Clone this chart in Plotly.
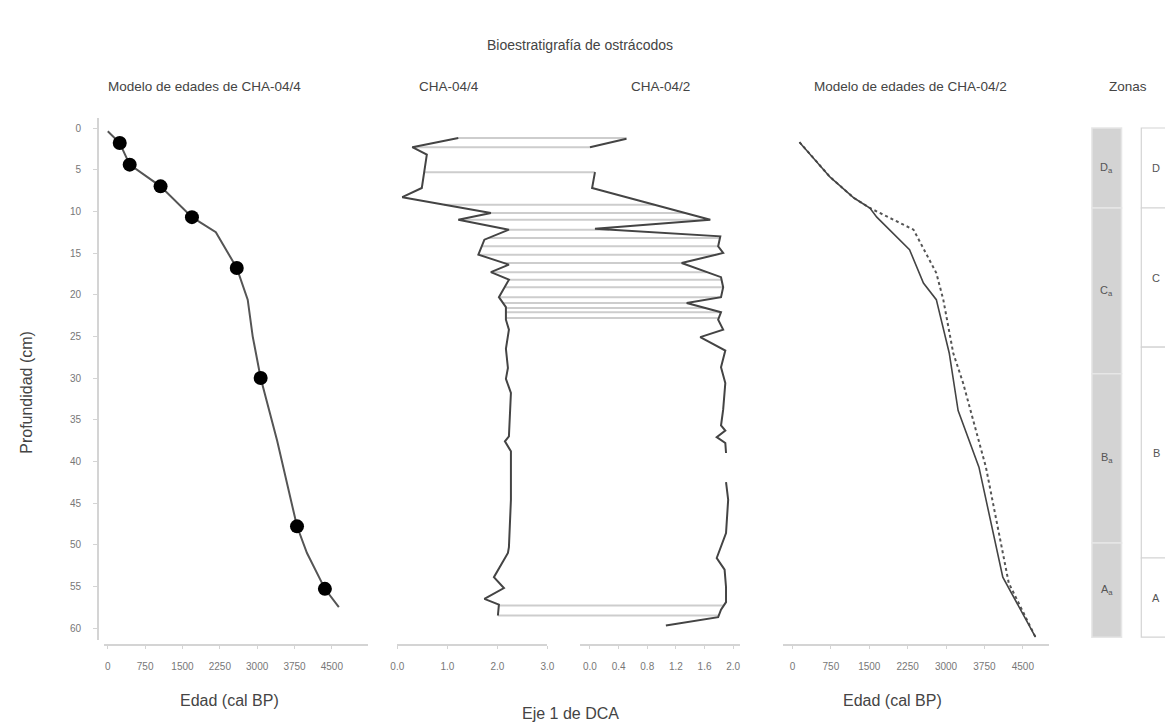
import numpy as np
import plotly.graph_objects as go

W, H = 1172, 722

# ---- Age model CHA-04/4 (depth in cm, age in cal BP) ----
m4_depth = [0.4, 1.8, 4.4, 7.0, 10.7, 12.5, 16.8, 20.6, 25.0, 30.0, 37.5, 47.8, 51.0, 55.3, 57.5]
m4_age = [0, 240, 440, 1060, 1690, 2170, 2590, 2810, 2910, 3070, 3400, 3800, 4000, 4360, 4640]
# dated levels
d4_depth = [1.8, 4.4, 7.0, 10.7, 16.8, 30.0, 47.8, 55.3]
d4_age = [240, 440, 1060, 1690, 2590, 3070, 3800, 4360]

# ---- DCA axis 1 scores ----
dca4_depth = [1.2, 2.3, 3.2, 5.0, 7.2, 8.3, 10.2, 11.0, 12.2, 13.4, 15.2, 16.4, 17.3, 18.2,
              20.3, 21.5, 23.0, 24.2, 26.5, 28.8, 30.1, 31.8, 37.0, 37.6, 38.8, 44.6, 50.3,
              51.0, 53.9, 55.2, 56.5, 57.2, 58.5]
dca4_score = [1.22, 0.30, 0.59, 0.55, 0.49, 0.10, 1.87, 1.22, 2.23, 1.74, 1.62, 2.23, 1.87, 2.23,
              2.03, 2.17, 2.17, 2.23, 2.17, 2.21, 2.17, 2.27, 2.23, 2.15, 2.27, 2.27, 2.23,
              2.21, 1.93, 2.13, 1.74, 2.03, 2.01]

dca2_depth = [1.3, 2.3, 3.8, 5.3, 7.2, 11.0, 12.1, 13.0, 14.2, 15.0, 16.2, 17.9, 19.1, 20.3,
              21.0, 22.1, 23.0, 24.2, 25.1, 26.7, 28.7, 30.6, 33.8, 35.7, 36.3, 37.1, 37.8,
              39.0, 40.5, 42.5, 44.6, 48.6, 49.1, 51.6, 53.0, 55.1, 56.9, 57.8, 58.7, 59.7]
dca2_score = [0.51, 0.00, None, 0.07, 0.03, 1.68, 0.07, 1.82, 1.79, 1.86, 1.28, 1.83, 1.86, 1.83,
              1.35, 1.83, 1.79, 1.86, 1.54, 1.89, 1.83, 1.89, 1.86, 1.83, 1.89, 1.77, 1.89,
              1.90, None, 1.90, 1.93, 1.90, 1.88, 1.77, 1.88, 1.90, 1.90, 1.83, 1.79, 1.06]

# levels correlated between both cores
link_depth = [1.2, 2.3, 5.3, 9.2, 10.2, 11.0, 12.2, 13.2, 14.2, 15.2, 16.2, 17.3, 18.2,
              19.1, 20.3, 21.0, 21.6, 22.1, 22.8, 57.3, 58.5]

# ---- Age model CHA-04/2 ----
m2_depth = [1.7, 5.9, 8.4, 9.6, 10.7, 14.6, 18.6, 20.6, 27.0, 33.9, 40.7, 53.9, 61.1]
m2_age = [136, 736, 1202, 1512, 1647, 2287, 2558, 2810, 3062, 3236, 3643, 4109, 4748]
m2b_depth = [1.7, 5.9, 8.4, 9.6, 12.2, 17.4, 20.6, 27.0, 30.6, 40.7, 54.6, 61.1]
m2b_age = [136, 736, 1202, 1512, 2364, 2810, 2946, 3140, 3333, 3779, 4225, 4748]

# ---- Zones ----
zone_a_names = ["D", "C", "B", "A"]
zone_a_top = [0.0, 9.6, 29.5, 49.8]
zone_a_bot = [9.6, 29.5, 49.8, 61.1]
zone_b_names = ["D", "C", "B", "A"]
zone_b_top = [0.0, 9.6, 26.3, 51.6]
zone_b_bot = [9.6, 26.3, 51.6, 61.1]

age_ticks = [0, 750, 1500, 2250, 3000, 3750, 4500]
depth_ticks = list(range(0, 61, 5))
dca4_ticks = [0, 1, 2, 3]
dca2_ticks = [0, 0.4, 0.8, 1.2, 1.6, 2.0]

# ---------------------------------------------------------------
FAMILY = "Liberation Sans, Arial, sans-serif"


def dom(a, b):
    return [a / W, b / W]


AXIS_Y = 1 - 645 / H
GRID = "#d4d4d4"
TICKFONT = dict(family=FAMILY, size=10, color="#777")

# sub-axes of the DCA panel, and a combined axis (in px units) for the links
X3_DOM, X3_RNG = (395, 547), (0.0, 3.0)
X4_DOM, X4_RNG = (580, 742), (-0.138, 2.097)


def to_px(v, d, r):
    return d[0] + (v - r[0]) * (d[1] - d[0]) / (r[1] - r[0])


fig = go.Figure()

# links between the two DCA profiles
d2 = np.array([d for d, s in zip(dca2_depth, dca2_score) if s is not None])
s2 = np.array([s for s in dca2_score if s is not None])
for d in link_depth:
    xl = to_px(np.interp(d, dca4_depth, dca4_score), X3_DOM, X3_RNG)
    xr = to_px(np.interp(d, d2, s2), X4_DOM, X4_RNG)
    fig.add_trace(go.Scatter(x=[xl, xr], y=[d, d], mode="lines",
                             line=dict(color="#cdcdcd", width=2),
                             xaxis="x2", yaxis="y", hoverinfo="skip"))

# age model CHA-04/4
fig.add_trace(go.Scatter(x=m4_age, y=m4_depth, mode="lines",
                         line=dict(color="#555", width=2), xaxis="x", yaxis="y"))
fig.add_trace(go.Scatter(x=d4_age, y=d4_depth, mode="markers",
                         marker=dict(color="black", size=14), xaxis="x", yaxis="y"))

# DCA profiles
fig.add_trace(go.Scatter(x=dca4_score, y=dca4_depth, mode="lines",
                         line=dict(color="#444", width=2), xaxis="x3", yaxis="y"))
fig.add_trace(go.Scatter(x=dca2_score, y=dca2_depth, mode="lines", connectgaps=False,
                         line=dict(color="#444", width=2), xaxis="x4", yaxis="y"))

# age model CHA-04/2
fig.add_trace(go.Scatter(x=m2b_age, y=m2b_depth, mode="lines",
                         line=dict(color="#555", width=2, dash="dot"), xaxis="x5", yaxis="y"))
fig.add_trace(go.Scatter(x=m2_age, y=m2_depth, mode="lines",
                         line=dict(color="#444", width=1.6), xaxis="x5", yaxis="y"))

# zones
za_c = [(a + b) / 2 for a, b in zip(zone_a_top, zone_a_bot)]
za_w = [b - a for a, b in zip(zone_a_top, zone_a_bot)]
zb_c = [(a + b) / 2 for a, b in zip(zone_b_top, zone_b_bot)]
zb_w = [b - a for a, b in zip(zone_b_top, zone_b_bot)]
fig.add_trace(go.Bar(orientation="h", y=za_c, width=za_w, x=[30] * 4, base=[13] * 4,
                     marker=dict(color="#d3d3d3", line=dict(color="#e6e6e6", width=1.5)),
                     xaxis="x6", yaxis="y"))
fig.add_trace(go.Bar(orientation="h", y=zb_c, width=zb_w, x=[40] * 4, base=[63] * 4,
                     marker=dict(color="white", line=dict(color="#d4d4d4", width=1.2)),
                     xaxis="x6", yaxis="y"))

ann = []
ZFONT = dict(family=FAMILY, size=11, color="#555")
for n, c in zip(zone_a_names, za_c):
    ann.append(dict(x=28, y=c, xref="x6", yref="y", text=f"{n}<sub>a</sub>",
                    xanchor="center", yanchor="middle", showarrow=False, font=ZFONT))
for n, c in zip(zone_b_names, zb_c):
    ann.append(dict(x=78, y=c, xref="x6", yref="y", text=n,
                    xanchor="center", yanchor="middle", showarrow=False, font=ZFONT))


def txt(x, y, s, size=13, angle=0):
    ann.append(dict(x=x / W, y=1 - y / H, xref="paper", yref="paper", text=s,
                    xanchor="center", yanchor="middle",
                    showarrow=False, textangle=angle,
                    font=dict(family=FAMILY, size=size, color="#444")))


txt(580, 45, "Bioestratigrafía de ostrácodos", 14)
txt(200, 87, "Modelo de edades de CHA-04/4", 13.5)
txt(447, 87, "CHA-04/4", 13.5)
txt(661, 87, "CHA-04/2", 13.5)
txt(914, 87, "Modelo de edades de CHA-04/2", 13.5)
txt(1135, 87, "Zonas", 13.5)
txt(225, 700, "Edad (cal BP)", 16)
txt(570, 713, "Eje 1 de DCA", 16)
txt(896, 700, "Edad (cal BP)", 16)
txt(19, 392, "Profundidad (cm)", 16, -90)


def xax(domain, rng, ticks, fmt=None):
    d = dict(domain=dom(*domain), range=list(rng), anchor="free", position=AXIS_Y,
             showline=True, linecolor=GRID, linewidth=1.5, showgrid=False, zeroline=False,
             ticks="outside", ticklen=3, tickcolor=GRID, tickvals=ticks,
             tickfont=TICKFONT, ticklabelstandoff=9)
    if fmt:
        d["tickformat"] = fmt
    return d


def lin_range(d, zero_px, ppu):
    return ((d[0] - zero_px) / ppu, (d[1] - zero_px) / ppu)


L_DOM = (98, 365)
R_DOM = (785, 1055)

fig.update_layout(
    width=W, height=H, autosize=False,
    margin=dict(l=0, r=0, t=0, b=0),
    paper_bgcolor="white", plot_bgcolor="rgba(0,0,0,0)",
    showlegend=False, barmode="overlay",
    annotations=ann,
    yaxis=dict(domain=[1 - 640 / H, 1 - 118 / H], range=[61.44, -1.2],
               anchor="free", position=92 / W,
               showline=True, linecolor=GRID, linewidth=1.5, showgrid=False, zeroline=False,
               ticks="outside", ticklen=4, tickcolor=GRID, tickvals=depth_ticks,
               tickfont=TICKFONT, ticklabelstandoff=10),
    xaxis=xax(L_DOM, lin_range(L_DOM, 102, 0.0504), age_ticks),
    xaxis2=dict(domain=dom(395, 742), range=[395, 742], anchor="y", visible=False),
    xaxis3=xax(X3_DOM, X3_RNG, dca4_ticks, ".1f"),
    xaxis4=xax(X4_DOM, X4_RNG, dca2_ticks, ".1f"),
    xaxis5=xax(R_DOM, lin_range(R_DOM, 795, 0.0518), age_ticks),
    xaxis6=dict(domain=dom(1085, 1172), range=[0, 87], anchor="y", visible=False),
)

fig.write_html("out.html")
